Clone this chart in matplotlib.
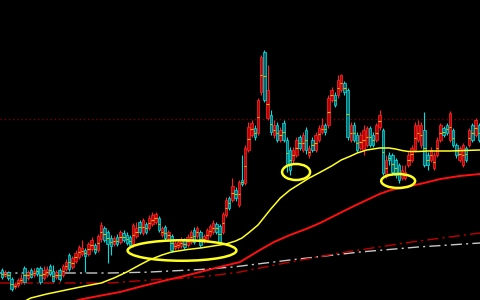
import numpy as np
import matplotlib
matplotlib.use('Agg')
import matplotlib.pyplot as plt
from matplotlib.patches import Ellipse

# candles (open, close, high, low), arbitrary price units
opens = [3.0, 2.4, 2.8, 2.1, 1.3, 1.5, 1.8, 3.2, 2.2, 3.0,
         2.5, 3.2, 3.2, 2.2, 2.5, 3.4, 2.9, 2.3, 3.0, 2.5,
         3.1, 4.5, 3.3, 3.9, 4.3, 4.6, 5.0, 4.6, 5.1, 5.5,
         5.0, 6.1, 7.2, 6.8, 6.2, 5.6, 6.3, 5.8, 6.7, 6.5,
         6.3, 5.6, 6.4, 7.8, 6.7, 7.6, 7.2, 7.6, 7.8, 8.2,
         6.5, 7.3, 6.2, 6.4, 5.2, 5.3, 5.4, 6.0, 5.5, 5.8,
         7.0, 6.4, 6.8, 5.9, 6.0, 6.5, 6.8, 7.6, 7.4, 6.8,
         8.5, 10.2, 10.0, 11.0, 9.5, 12.0, 11.7, 15.0, 16.5, 17.2,
         16.7, 20.8, 24.8, 18.2, 18.5, 16.5, 17.5, 16.0, 17.7, 16.0,
         15.0, 14.0, 14.5, 16.3, 15.0, 17.0, 14.5, 16.0, 15.0, 16.0,
         16.8, 17.5, 17.5, 20.0, 20.5, 20.5, 21.0, 21.7, 21.0, 16.0,
         17.5, 16.5, 15.2, 15.0, 15.5, 17.2, 16.5, 16.0, 17.3, 17.0,
         12.5, 14.5, 14.5, 14.0, 13.5, 12.2, 12.2, 13.5, 14.0, 15.0,
         16.0, 15.5, 17.0, 14.5, 14.0, 13.2, 14.5, 16.0, 17.2, 17.5,
         16.0, 17.0, 15.5, 14.0, 13.5, 15.2, 15.5, 17.5, 16.5, 17.5]
closes = [2.3, 2.8, 2.2, 1.1, 1.6, 2.0, 2.2, 1.8, 2.8, 2.3,
          2.9, 2.6, 1.8, 3.0, 3.1, 2.6, 1.9, 2.8, 2.1, 3.4,
          3.8, 3.1, 4.2, 4.7, 5.3, 5.2, 4.4, 5.6, 6.0, 4.8,
          6.4, 7.5, 6.0, 5.6, 5.4, 6.2, 5.6, 6.8, 6.0, 5.7,
          5.5, 7.5, 7.2, 6.8, 8.0, 6.8, 8.2, 8.5, 8.6, 7.0,
          7.2, 6.2, 6.8, 5.0, 5.7, 5.8, 6.0, 5.3, 6.3, 6.8,
          5.8, 7.2, 5.5, 6.4, 7.0, 7.4, 7.7, 6.8, 5.8, 8.6,
          10.0, 9.2, 11.4, 10.2, 11.8, 11.6, 15.2, 17.3, 17.7, 16.3,
          20.0, 24.3, 20.0, 21.0, 16.8, 17.5, 16.0, 17.0, 16.0, 13.5,
          13.0, 15.0, 16.0, 15.2, 16.5, 15.0, 15.2, 15.0, 16.5, 17.2,
          17.5, 16.8, 20.2, 21.0, 19.5, 22.0, 22.5, 20.8, 16.3, 17.5,
          16.0, 15.0, 16.5, 17.0, 17.2, 15.5, 15.5, 17.5, 18.5, 12.7,
          14.0, 14.0, 12.8, 12.5, 12.0, 13.0, 12.8, 14.5, 15.2, 17.5,
          17.5, 17.5, 13.5, 13.5, 15.0, 14.5, 16.0, 17.5, 16.5, 16.7,
          18.7, 15.5, 14.5, 15.2, 15.5, 14.0, 17.0, 16.0, 18.0, 16.0]
highs = [3.2, 3.0, 2.9, 2.3, 1.8, 2.2, 2.6, 3.4, 3.0, 3.2,
         3.2, 3.3, 3.4, 3.4, 3.4, 3.6, 3.5, 3.0, 3.2, 3.6,
         4.1, 4.7, 4.4, 5.0, 5.5, 6.0, 5.2, 5.8, 6.3, 5.7,
         6.6, 7.8, 7.4, 7.0, 6.5, 6.4, 6.6, 7.0, 7.0, 6.8,
         6.5, 7.7, 7.8, 8.0, 8.2, 7.8, 8.5, 8.8, 8.8, 8.4,
         7.4, 7.5, 7.0, 6.6, 5.9, 6.0, 6.3, 6.2, 6.6, 7.0,
         7.3, 7.4, 7.0, 6.6, 7.2, 7.6, 8.0, 7.8, 7.6, 8.8,
         10.3, 10.4, 12.2, 11.3, 12.0, 14.5, 15.5, 17.8, 18.0, 17.5,
         20.2, 24.5, 25.0, 23.5, 19.0, 18.0, 17.8, 17.3, 18.0, 16.3,
         15.3, 15.3, 16.3, 16.5, 16.8, 17.3, 15.5, 16.3, 16.8, 17.5,
         18.2, 17.7, 20.5, 21.3, 20.8, 22.5, 22.6, 21.9, 21.2, 17.8,
         17.8, 16.8, 16.8, 17.5, 17.4, 17.4, 16.8, 17.7, 19.0, 17.2,
         14.5, 14.8, 14.7, 14.2, 13.7, 13.5, 13.5, 14.8, 15.5, 17.8,
         18.0, 17.8, 18.8, 14.8, 15.3, 14.8, 16.3, 17.7, 17.4, 17.7,
         18.9, 17.2, 15.7, 15.4, 15.7, 15.4, 17.2, 17.7, 18.2, 17.7]
lows = [2.1, 2.3, 2.0, 0.9, 1.1, 1.3, 1.6, 1.6, 2.0, 2.2,
        2.3, 2.4, 1.6, 2.0, 2.3, 2.4, 1.7, 2.1, 1.9, 2.3,
        2.9, 2.9, 3.1, 3.7, 4.1, 4.4, 2.8, 4.4, 4.9, 4.6,
        4.8, 5.8, 5.8, 3.7, 4.5, 5.4, 5.4, 5.6, 5.8, 5.5,
        5.3, 5.3, 6.2, 6.6, 6.5, 6.6, 7.0, 7.4, 7.6, 6.8,
        6.3, 6.0, 6.0, 4.8, 5.0, 5.1, 5.2, 5.1, 5.3, 5.6,
        5.6, 6.2, 5.3, 5.7, 5.8, 6.3, 6.6, 6.6, 5.6, 6.6,
        8.3, 9.0, 9.8, 9.9, 9.3, 11.4, 11.5, 14.8, 16.3, 16.0,
        16.5, 20.5, 19.8, 18.0, 16.5, 16.2, 15.8, 15.8, 15.8, 12.8,
        12.5, 13.6, 14.3, 15.0, 14.8, 14.6, 14.2, 14.8, 14.8, 15.8,
        16.6, 16.5, 17.2, 19.8, 19.3, 20.2, 20.8, 20.5, 16.0, 15.8,
        15.8, 14.8, 15.0, 14.5, 15.3, 15.3, 15.3, 15.8, 17.0, 12.5,
        12.2, 13.5, 12.5, 12.2, 11.7, 12.0, 12.0, 13.3, 13.8, 14.8,
        15.8, 15.2, 13.3, 13.0, 13.8, 13.0, 14.3, 15.8, 16.3, 16.5,
        15.8, 15.3, 14.2, 13.8, 13.3, 13.8, 15.3, 15.8, 16.3, 15.8]

# moving averages, read at a few bars
ma_fast_idx = [6, 9, 14, 20, 26, 31, 35, 39, 43, 46, 50, 53, 58, 62, 66, 70,
               73, 75, 77, 80, 82, 84, 87, 90, 93, 96, 99, 103, 106, 109, 111,
               114, 118, 121, 123, 125, 127, 130, 133, 140, 149.4]
ma_fast = [-0.3, 0.2, 0.6, 1.0, 1.4, 1.7, 2.2, 2.8, 3.5, 4.0, 4.5, 4.8, 5.05,
           5.2, 5.4, 5.6, 5.9, 6.2, 6.7, 7.5, 8.3, 9.1, 10.2, 11.0, 11.6,
           12.2, 12.7, 13.4, 14.0, 14.4, 14.7, 15.0, 15.2, 15.2, 15.1, 14.95,
           14.85, 14.85, 14.9, 14.9, 15.0]
ma_slow_idx = [22.8, 25.3, 31, 36.9, 44, 51.6, 57, 61.9, 68, 74.4, 77.5, 80.6,
               85, 90, 95, 99.4, 105.6, 110, 114, 118, 121, 124.4, 130.6, 137,
               143, 149.4]
ma_slow = [-0.1, 0.1, 0.45, 0.8, 1.4, 2.0, 2.4, 2.8, 3.3, 3.8, 4.4, 5.0, 5.8,
           6.5, 7.1, 7.7, 8.7, 9.4, 10.0, 10.6, 10.95, 11.2, 11.6, 12.1, 12.4,
           12.6]
ma_long_idx = [-0.6, 33.75, 45, 52.5, 62, 72.2, 90, 111.9, 130, 149.4]
ma_long = [2.7, 2.7, 2.78, 2.9, 3.05, 3.3, 4.0, 4.8, 5.3, 5.7]
ma_year_idx = [-0.6, 33.75, 46.25, 57.8, 66, 74.4, 90, 105.6, 128, 149.4]
ma_year = [1.7, 1.7, 2.0, 2.2, 2.45, 2.8, 3.8, 4.7, 5.8, 6.7]
ref_level = 18.1

opens = np.array(opens)
closes = np.array(closes)
highs = np.array(highs)
lows = np.array(lows)
x = np.arange(len(opens))
up = closes >= opens

fig = plt.figure(figsize=(4.8, 3.0), dpi=100, facecolor='black')
ax = fig.add_axes([0, 0, 1, 1])
ax.set_facecolor('black')

ax.axhline(ref_level, color='#7a0000', lw=1.0, ls=(0, (1, 2)), zorder=1)

# wicks then bodies
ax.vlines(x[up], lows[up], highs[up], color='#ff2020', lw=0.8, zorder=2)
ax.vlines(x[~up], lows[~up], highs[~up], color='#00e0e0', lw=0.8, zorder=2)
bottoms = np.minimum(opens, closes)
heights = np.maximum(np.abs(closes - opens), 0.1)
ax.bar(x[up], heights[up], bottom=bottoms[up], width=0.7,
       color='#c00000', edgecolor='#ff2a2a', lw=0.5, zorder=3)
ax.bar(x[~up], heights[~up], bottom=bottoms[~up], width=0.7,
       color='#006870', edgecolor='#00e8e8', lw=0.5, zorder=3)
mid = (opens + closes) / 2
ax.hlines(mid, x - 0.35, x + 0.35, color='#e8b400', lw=0.8, zorder=4)

ax.plot(ma_long_idx, ma_long, color='#c8c8c8', lw=1.0,
        ls=(0, (8, 3, 1.5, 3)), zorder=2)
ax.plot(ma_year_idx, ma_year, color='#c00000', lw=1.0,
        ls=(0, (8, 3, 1.5, 3)), zorder=2)
ax.plot(ma_slow_idx, ma_slow, color='#ff1010', lw=1.4, zorder=5)
ax.plot(ma_fast_idx, ma_fast, color='#ffff20', lw=1.1, zorder=5)

# highlighted zones
for cx, cy, w, h in [(56.25, 4.95, 34.0, 2.05), (91.9, 12.8, 8.75, 1.6),
                     (123.8, 11.9, 10.6, 1.4)]:
    ax.add_patch(Ellipse((cx, cy), w, h, fill=False, edgecolor='#ffff20',
                         lw=1.8, zorder=6))

ax.set_xlim(-0.625, 149.375)
ax.set_ylim(0, 30)
ax.axis('off')

fig.savefig('out.png', dpi=100, facecolor='black')
